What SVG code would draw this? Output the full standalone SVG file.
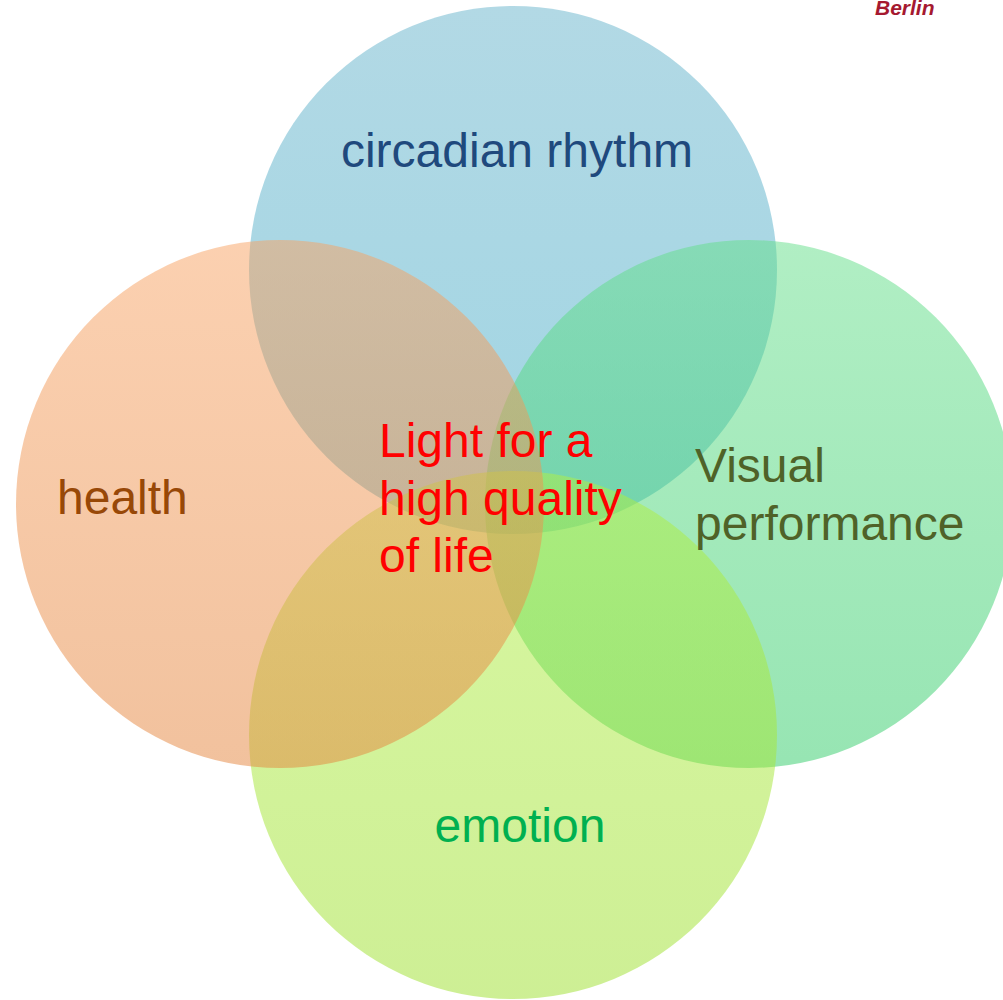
<svg xmlns="http://www.w3.org/2000/svg" width="1003" height="1000" viewBox="0 0 1003 1000">
<style>
.c{fill-opacity:0.5}
text{font-family:"Liberation Sans",Arial,sans-serif;font-size:48px}
</style>
<defs>
<linearGradient id="gTop" x1="0" y1="0" x2="0" y2="1"><stop offset="0" stop-color="#66b3cb"/><stop offset="1" stop-color="#41abc7"/></linearGradient>
<linearGradient id="gLeft" x1="0" y1="0" x2="0" y2="1"><stop offset="0" stop-color="#f8a262"/><stop offset="1" stop-color="#e4843c"/></linearGradient>
<linearGradient id="gRight" x1="0" y1="0" x2="0" y2="1"><stop offset="0" stop-color="#63de89"/><stop offset="1" stop-color="#2fcb67"/></linearGradient>
<linearGradient id="gBottom" x1="0" y1="0" x2="0" y2="1"><stop offset="0" stop-color="#b0ef42"/><stop offset="1" stop-color="#9cdf2b"/></linearGradient>
</defs>
<rect width="1003" height="1000" fill="#ffffff"/>
<g id="circadian">
<circle class="c" cx="513" cy="270" r="264" fill="url(#gTop)"/>
</g>
<g id="visual">
<circle class="c" cx="749" cy="504" r="264" fill="url(#gRight)"/>
</g>
<g id="emotion">
<circle class="c" cx="513" cy="735" r="264" fill="url(#gBottom)"/>
</g>
<g id="health">
<circle class="c" cx="280" cy="504" r="264" fill="url(#gLeft)"/>
</g>
<g id="connectors"></g>
<g id="labels">
<text x="517" y="167" text-anchor="middle" fill="#1f497d">circadian rhythm</text>
<text x="57" y="514" fill="#984807">health</text>
<text x="695" y="482" fill="#4f6228">Visual</text>
<text x="695" y="540" fill="#4f6228">performance</text>
<text x="520" y="842" text-anchor="middle" fill="#00b050">emotion</text>
<text x="379" y="457" fill="#ff0000">Light for a</text>
<text x="379" y="515" fill="#ff0000">high quality</text>
<text x="379" y="572" fill="#ff0000">of life</text>
<text x="875" y="15" style="font-size:21px;font-weight:bold;font-style:italic" fill="#a51930">Berlin</text>
</g>
</svg>
